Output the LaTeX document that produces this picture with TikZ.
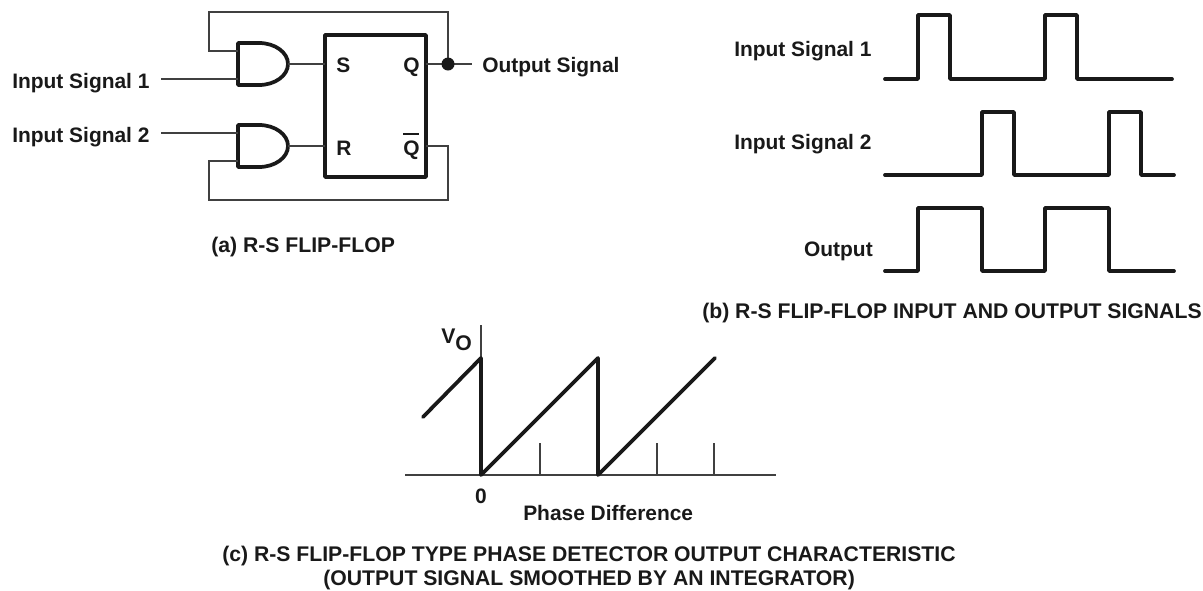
\documentclass[tikz,border=0pt]{standalone}
\usepackage{fontspec}
\setmainfont{Liberation Sans}
\tikzset{
	thin wire/.style={line width=0.9pt,color=black!75},
	thick wire/.style={line width=2.8pt,color=black!90,line join=round,line cap=round},
	label/.style={inner sep=0pt,font=\fontsize{15.7pt}{19pt}\selectfont\bfseries,text=black!90},
	caption/.style={inner sep=0pt,font=\fontsize{15.9pt}{19pt}\selectfont\bfseries,text=black!90},
}
\begin{document}
\begin{tikzpicture}[x=0.75pt,y=-0.75pt,>=stealth]
	\useasboundingbox (0,0) rectangle (1203,590);
	% (a) flip-flop
	\path
	(209,12) coordinate (topL)
	(448,12) coordinate (topR)
	(209,200) coordinate (botL)
	(448,200) coordinate (botR)
	(238,43) coordinate (gateA)
	(238,125) coordinate (gateB)
	(288,64) coordinate (outA)
	(288,146) coordinate (outB)
	(209,51) coordinate (inA1)
	(238,51) coordinate (gateA1)
	(161,79) coordinate (inA2)
	(238,79) coordinate (gateA2)
	(161,133) coordinate (inB1)
	(238,133) coordinate (gateB1)
	(209,161) coordinate (inB2)
	(238,161) coordinate (gateB2)
	(472,64) coordinate (outEnd)
	(448,146) coordinate (barR)
	(403,134) coordinate (barA)
	(419,134) coordinate (barB)
	;
	\node[draw,line width=2.8pt,line join=round,color=black!90,minimum width=75.75pt,minimum height=106.5pt,inner sep=0pt,outer sep=0pt] (ff) at (375.5,106) {};
	\path (ff.west |- outA) coordinate (S) (ff.west |- outB) coordinate (R) (ff.east |- outA) coordinate (Q) (ff.east |- outB) coordinate (Qb);
	\foreach \n/\t/\x/\y in {labS/S/336/72,labR/R/336/155,labQ/Q/403/72,labQb/Q/403/155}
	\node[label,anchor=base west] (\n) at (\x,\y) {\t};
	\draw[line width=1.6pt,color=black!90] (barA)--(barB);
	\foreach \a in {A,B}
	\draw[thick wire] (gate\a) -- +(21,0) arc (-90:90:29 and 21) -- +(-21,0) -- cycle;
	\draw[thin wire] (gateA1)--(inA1)--(topL)--(topR)--(topR |- Q);
	\draw[thin wire] (gateB2)--(inB2)--(botL)--(botR)--(barR)--(Qb);
	\draw[thin wire] (inA2)--(gateA2) (inB1)--(gateB1) (outA)--(S) (outB)--(R) (Q)--(outEnd);
	\fill[black!90] (topR |- Q) circle (6.5);
	\node[label,anchor=base west] (in1) at (12,88) {Input Signal 1};
	\node[label,anchor=base west] (in2) at (12,142) {Input Signal 2};
	\node[label,anchor=base west] (outS) at (482,72) {Output Signal};
	\node[caption,anchor=base west] (capA) at (211,252) {(a) R-S FLIP-FLOP};
	% (b) waveforms
	\draw[thick wire] (885,79)--(918,79)--(918,15)--(950,15)--(950,79)--(1045,79)--(1045,15)--(1077,15)--(1077,79)--(1172,79);
	\draw[thick wire] (885,175)--(982,175)--(982,112)--(1014,112)--(1014,175)--(1109,175)--(1109,112)--(1141,112)--(1141,175)--(1174,175);
	\draw[thick wire] (885,271)--(918,271)--(918,208)--(982,208)--(982,271)--(1045,271)--(1045,208)--(1109,208)--(1109,271)--(1174,271);
	\node[label,anchor=base west] (w1) at (734,56) {Input Signal 1};
	\node[label,anchor=base west] (w2) at (734,149) {Input Signal 2};
	\node[label,anchor=base east] (w3) at (873,256) {Output};
	\node[caption,anchor=base west] (capB) at (702,318) {(b) R-S FLIP-FLOP INPUT AND OUTPUT SIGNALS};
	% (c) characteristic
	\path
	(405,475) coordinate (xL)
	(776,475) coordinate (xR)
	(481,325) coordinate (yT)
	(481,475) coordinate (O)
	(598,475) coordinate (P)
	(481,358) coordinate (peakA)
	(598,358) coordinate (peakB)
	(715,358) coordinate (peakC)
	(423,417) coordinate (start)
	;
	\draw[thin wire] (xL)--(xR) (yT)--(O);
	\foreach \x in {540,598,657,714}
	\draw[thin wire] (\x,443)--(\x,475);
	\draw[thick wire] (start)--(peakA)--(O)--(peakB)--(P)--(peakC);
	\node[caption,anchor=base west] (vo) at (441,343) {V\raisebox{-5.25pt}{O}};
	\node[label,anchor=base] (zero) at (481,503) {0};
	\node[label,anchor=base west] (phase) at (523,520) {Phase Difference};
	\node[caption,anchor=base west] (capC) at (222,561) {(c) R-S FLIP-FLOP TYPE PHASE DETECTOR OUTPUT CHARACTERISTIC};
	\node[caption,anchor=base west] (capD) at (323,585) {(OUTPUT SIGNAL SMOOTHED BY AN INTEGRATOR)};
\end{tikzpicture}
\end{document}
